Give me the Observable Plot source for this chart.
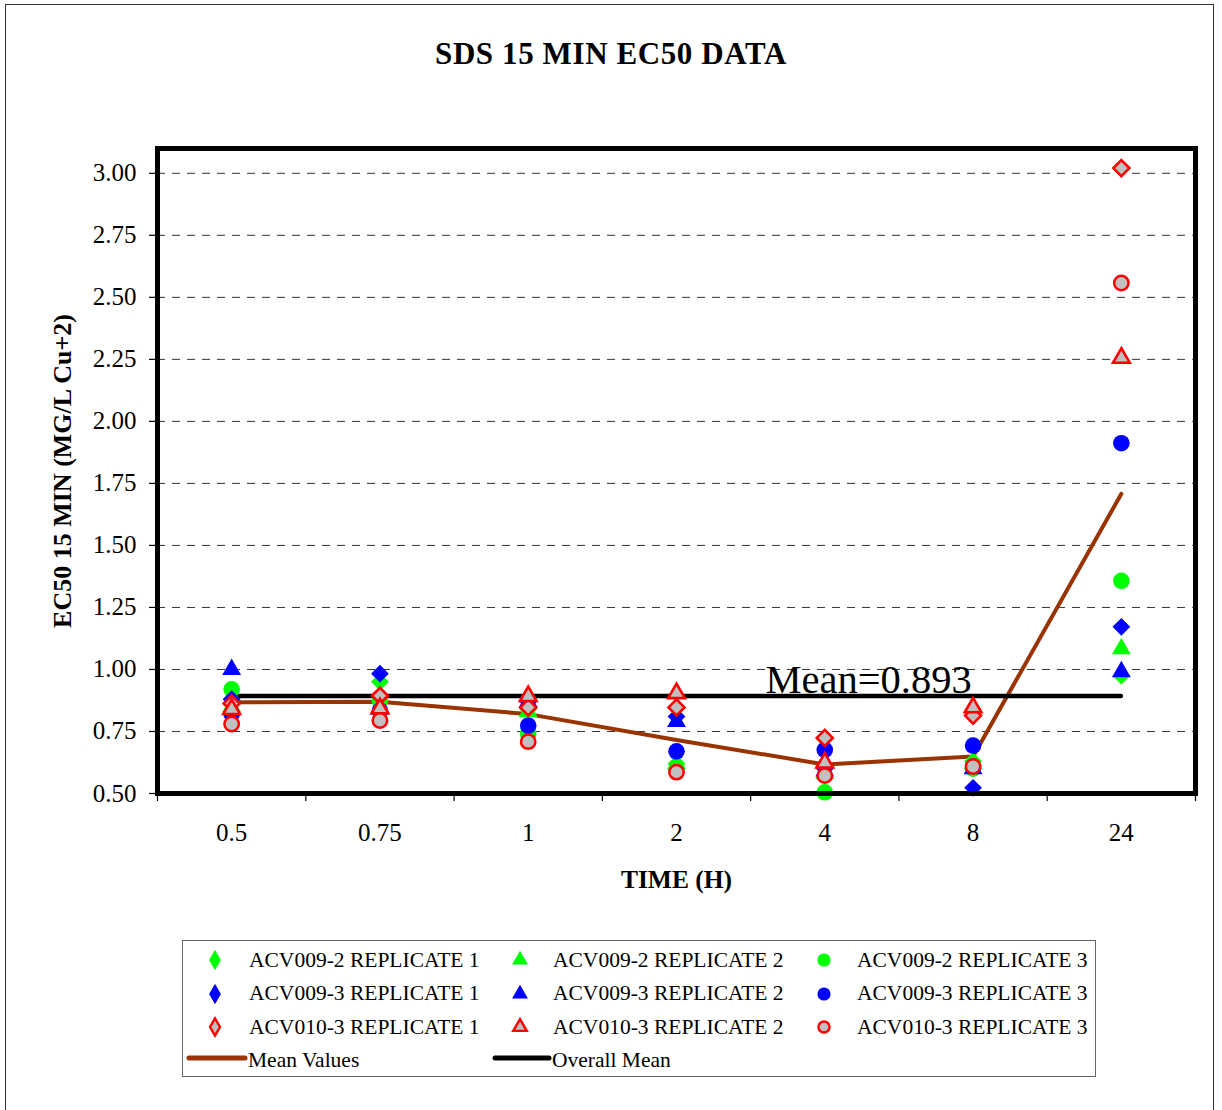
<!DOCTYPE html>
<html>
<head>
<meta charset="utf-8">
<script src="https://cdn.jsdelivr.net/npm/d3@7"></script>
<script src="https://cdn.jsdelivr.net/npm/@observablehq/plot@0.6"></script>
<style>
  html, body { margin: 0; padding: 0; background: #fff; }
  #root { position: relative; width: 1222px; height: 1110px; overflow: hidden; font-family: "Liberation Serif", serif; color: #000; }
  #border { position: absolute; left: 5px; top: 4px; width: 1209px; height: 1120px; border: 1.5px solid #333; box-sizing: border-box; }
  #title { position: absolute; left: 0; top: 34px; width: 1222px; text-align: center; font-weight: bold; font-size: 31px; letter-spacing: 0.6px; line-height: 40px; }
  #chart { position: absolute; left: 0; top: 100px; }
  #legend { position: absolute; left: 182px; top: 940px; width: 914px; height: 137px; border: 1px solid #666; box-sizing: border-box; }
  .item { position: absolute; display: flex; align-items: center; font-size: 21.5px; height: 30px; white-space: nowrap; }
</style>
</head>
<body>
<div id="root">
  <div id="border"></div>
  <div id="title">SDS 15 MIN EC50 DATA</div>
  <div id="chart"></div>
  <div id="legend"></div>
</div>
<script>
// ---- data ----
const times = ["0.5", "0.75", "1", "2", "4", "8", "24"];
const acv0092_r1 = [0.88, 0.95, 0.84, 0.62, 0.72, 0.63, 0.975];
const acv0092_r2 = [0.85, 0.84, 0.83, 0.62, 0.58, 0.62, 1.083];
const acv0092_r3 = [0.92, 0.874, 0.74, 0.60, 0.505, 0.60, 1.357];
const acv0093_r1 = [0.88, 0.983, 0.87, 0.81, 0.60, 0.523, 1.172];
const acv0093_r2 = [1.00, 0.84, 0.87, 0.79, 0.59, 0.60, 0.991];
const acv0093_r3 = [0.82, 0.834, 0.774, 0.67, 0.676, 0.693, 1.912];
const acv0103_r1 = [0.863, 0.894, 0.847, 0.847, 0.724, 0.814, 3.021];
const acv0103_r2 = [0.84, 0.843, 0.892, 0.904, 0.624, 0.847, 2.256];
const acv0103_r3 = [0.78, 0.794, 0.709, 0.586, 0.572, 0.609, 2.558];
const meanValues = [0.868, 0.870, 0.820, 0.716, 0.617, 0.649, 1.708];
const overallMean = 0.893;
const yTicks = [0.5, 0.75, 1.0, 1.25, 1.5, 1.75, 2.0, 2.25, 2.5, 2.75, 3.0];

// ---- styles ----
const GREEN = "#00ff00", BLUE = "#0000ff", RED = "#ff0000", GREY = "#c0c0c0";
const series = [
  {name: "ACV009-2 REPLICATE 1", values: acv0092_r1, symbol: "diamond2", fill: GREEN, stroke: "none", r: 8, sw: 0, lsym: "diamond"},
  {name: "ACV009-2 REPLICATE 2", values: acv0092_r2, symbol: "triangle", fill: GREEN, stroke: "none", r: 7, sw: 0, lsym: "triangle"},
  {name: "ACV009-2 REPLICATE 3", values: acv0092_r3, symbol: "circle", fill: GREEN, stroke: "none", r: 8.3, sw: 0, lsym: "circle"},
  {name: "ACV009-3 REPLICATE 1", values: acv0093_r1, symbol: "diamond2", fill: BLUE, stroke: "none", r: 8, sw: 0, lsym: "diamond"},
  {name: "ACV009-3 REPLICATE 2", values: acv0093_r2, symbol: "triangle", fill: BLUE, stroke: "none", r: 7, sw: 0, lsym: "triangle"},
  {name: "ACV009-3 REPLICATE 3", values: acv0093_r3, symbol: "circle", fill: BLUE, stroke: "none", r: 8.3, sw: 0, lsym: "circle"},
  {name: "ACV010-3 REPLICATE 1", values: acv0103_r1, symbol: "diamond2", fill: GREY, stroke: RED, r: 7.2, sw: 2.6, lsym: "diamond"},
  {name: "ACV010-3 REPLICATE 2", values: acv0103_r2, symbol: "triangle", fill: GREY, stroke: RED, r: 6.2, sw: 2.6, lsym: "triangle"},
  {name: "ACV010-3 REPLICATE 3", values: acv0103_r3, symbol: "circle", fill: GREY, stroke: RED, r: 7.2, sw: 2.5, lsym: "circle"}
];

const rows = series.flatMap(s => s.values.map((v, i) => ({series: s.name, x: i, y: v})));
const meanRows = meanValues.map((v, i) => ({x: i, y: v}));
const boundaries = times.map((_, i) => i - 0.5).concat([times.length - 0.5]);
const FONT = "Liberation Serif";

const chart = Plot.plot({
  width: 1222,
  height: 820,
  marginLeft: 157,
  marginRight: 27,
  marginTop: 48,
  marginBottom: 127,
  style: {fontFamily: FONT, fontSize: "25px", color: "#000", background: "transparent"},
  x: {domain: [-0.5, times.length - 0.5]},
  y: {domain: [0.5, 3.1]},
  marks: [
    Plot.ruleY(yTicks.filter(t => t > 0.5), {stroke: "#333", strokeWidth: 1, strokeDasharray: "8,7"}),
    Plot.axisY({ticks: yTicks, tickSize: 8, tickPadding: 13, tickFormat: d3.format(".2f"), fontSize: 25, label: null, stroke: "#000", strokeWidth: 1.2}),
    Plot.axisX({ticks: boundaries, tickSize: 8, tickFormat: () => "", label: null, strokeWidth: 1.2}),
    Plot.axisX({ticks: times.map((_, i) => i), tickSize: 0, tickPadding: 30, tickFormat: i => times[i], fontSize: 25, label: null}),
    Plot.line(meanRows, {x: "x", y: "y", stroke: "#993300", strokeWidth: 4}),
    Plot.ruleY([overallMean], {x1: 0, x2: times.length - 1, stroke: "#000", strokeWidth: 4.5, strokeLinecap: "round"}),
    Plot.text([overallMean], {x: 3.6, y: d => d, text: d => `Mean=${d}`, textAnchor: "start", lineAnchor: "middle", dy: -16, fontSize: 40.5, fontFamily: FONT, fill: "#000"}),
    ...series.map(s => Plot.dot(rows.filter(d => d.series === s.name), {
      x: "x", y: "y", symbol: s.symbol, r: s.r, fill: s.fill, stroke: s.stroke, strokeWidth: s.sw
    })),
    Plot.frame({stroke: "#000", strokeWidth: 5}),
    Plot.text(["TIME (H)"], {text: d => d, frameAnchor: "bottom", textAnchor: "middle", dy: 94, fontWeight: "bold", fontSize: 25.5, fontFamily: FONT, fill: "#000"}),
    Plot.text(["EC50 15 MIN (MG/L Cu+2)"], {text: d => d, frameAnchor: "left", textAnchor: "middle", dx: -95, rotate: -90, fontWeight: "bold", fontSize: 26, fontFamily: FONT, fill: "#000"})
  ]
});
document.getElementById("chart").appendChild(chart);

// ---- legend ----
const legend = document.getElementById("legend");
const colMarker = [32, 337, 641];
const colText = [66, 370, 674];
const rowY = [19, 52.5, 86, 119.5];
const legendSym = {diamond: d3.symbolDiamond, triangle: d3.symbolTriangle, circle: d3.symbolCircle};
const legendSize = {diamond: 120, triangle: 110, circle: 135};
series.forEach((s, k) => {
  const col = k % 3, row = Math.floor(k / 3);
  const m = document.createElementNS("http://www.w3.org/2000/svg", "svg");
  m.setAttribute("width", 26); m.setAttribute("height", 26);
  m.style.position = "absolute";
  m.style.left = (colMarker[col] - 13) + "px";
  m.style.top = (rowY[row] - 13) + "px";
  const p = document.createElementNS("http://www.w3.org/2000/svg", "path");
  p.setAttribute("d", d3.symbol(legendSym[s.lsym], s.sw ? legendSize[s.lsym] * 0.72 : legendSize[s.lsym])());
  p.setAttribute("transform", "translate(13,13)");
  p.setAttribute("fill", s.fill);
  if (s.sw) { p.setAttribute("stroke", s.stroke); p.setAttribute("stroke-width", 2.4); }
  m.appendChild(p);
  legend.appendChild(m);
  const t = document.createElement("div");
  t.className = "item";
  t.style.left = colText[col] + "px";
  t.style.top = (rowY[row] - 15) + "px";
  t.textContent = s.name;
  legend.appendChild(t);
});
const lines = [
  {name: "Mean Values", color: "#993300", x1: 6, x2: 62, tx: 65},
  {name: "Overall Mean", color: "#000", x1: 312, x2: 366, tx: 369}
];
lines.forEach(l => {
  const sv = document.createElementNS("http://www.w3.org/2000/svg", "svg");
  sv.setAttribute("width", l.x2 - l.x1 + 8); sv.setAttribute("height", 10);
  sv.style.position = "absolute";
  sv.style.left = (l.x1 - 4) + "px";
  sv.style.top = (rowY[3] - 3 - 5) + "px";
  const ln = document.createElementNS("http://www.w3.org/2000/svg", "line");
  ln.setAttribute("x1", 4); ln.setAttribute("x2", l.x2 - l.x1 + 4);
  ln.setAttribute("y1", 5); ln.setAttribute("y2", 5);
  ln.setAttribute("stroke", l.color); ln.setAttribute("stroke-width", 5); ln.setAttribute("stroke-linecap", "round");
  sv.appendChild(ln);
  legend.appendChild(sv);
  const t = document.createElement("div");
  t.className = "item";
  t.style.left = l.tx + "px";
  t.style.top = (rowY[3] - 15) + "px";
  t.textContent = l.name;
  legend.appendChild(t);
});
</script>
</body>
</html>
